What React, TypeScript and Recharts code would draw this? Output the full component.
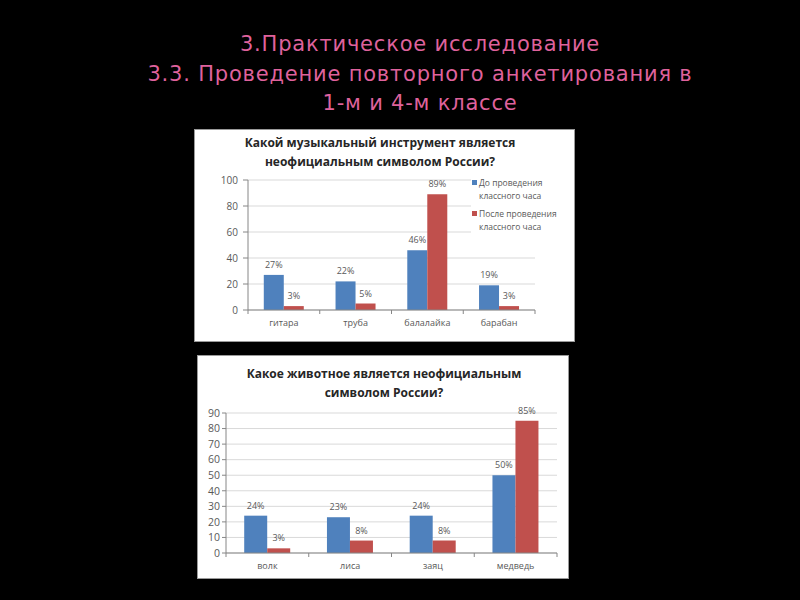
import { Bar, BarChart, CartesianGrid, LabelList, Legend, XAxis, YAxis } from "recharts";

const INSTRUMENTS = ["гитара", "труба", "балалайка", "барабан"];
const INSTR_BEFORE = [27, 22, 46, 19];
const INSTR_AFTER = [3, 5, 89, 3];
const INSTR_TICKS = [0, 20, 40, 60, 80, 100];

const ANIMALS = ["волк", "лиса", "заяц", "медведь"];
const ANIMAL_BEFORE = [24, 23, 24, 50];
const ANIMAL_AFTER = [3, 8, 8, 85];
const ANIMAL_TICKS = [0, 10, 20, 30, 40, 50, 60, 70, 80, 90];

const BEFORE_NAME = "До проведения\nклассного часа";
const AFTER_NAME = "После проведения\nклассного часа";

const BLUE = "#4f81bd";
const RED = "#c0504d";
const GREY_TEXT = "#595959";
const AXIS = "#868686";
const FONT = "'Open Sans', sans-serif";

const instrData = INSTRUMENTS.map((name, i) => ({
  name,
  before: INSTR_BEFORE[i],
  after: INSTR_AFTER[i],
}));

const animalData = ANIMALS.map((name, i) => ({
  name,
  before: ANIMAL_BEFORE[i],
  after: ANIMAL_AFTER[i],
}));

const pct = (v: any) => `${v}%`;

// подпись категории + засечки на границах категорий, как в Excel
function CategoryTick(props: any) {
  const { x, y, payload, index, visibleTicksCount } = props;
  const half = payload?.offset ?? 0;
  const axisY = y - 10;
  const last = index === (visibleTicksCount ?? 4) - 1;
  return (
    <g>
      <line x1={x - half} x2={x - half} y1={axisY} y2={axisY + 4} stroke={AXIS} />
      {last && <line x1={x + half} x2={x + half} y1={axisY} y2={axisY + 4} stroke={AXIS} />}
      <text x={x} y={y} dy="0.71em" textAnchor="middle" fontSize={9} fill={GREY_TEXT}>
        {payload.value}
      </text>
    </g>
  );
}

function LegendBox(props: any) {
  const items = props.payload || [];
  return (
    <div style={{ background: "#fff", padding: "0 0 4px 0", fontFamily: FONT }}>
      {items.map((it: any, i: number) => (
        <div key={i} style={{ position: "relative", paddingLeft: 8, marginBottom: i === 0 ? 5 : 0 }}>
          <span
            style={{
              position: "absolute",
              left: 1,
              top: 4,
              width: 5,
              height: 5,
              background: it.color,
            }}
          />
          <div
            style={{
              whiteSpace: "pre-line",
              fontSize: 8.5,
              lineHeight: "13px",
              color: GREY_TEXT,
            }}
          >
            {it.value}
          </div>
        </div>
      ))}
    </div>
  );
}

function ChartTitle({ lines, cx, top }: { lines: string[]; cx: number; top: number }) {
  return (
    <div
      style={{
        position: "absolute",
        left: cx - 200,
        top,
        width: 400,
        textAlign: "center",
        fontFamily: FONT,
        fontWeight: 700,
        fontSize: 12,
        lineHeight: "18.5px",
        color: "#262626",
      }}
    >
      {lines.map((l, i) => (
        <div key={i}>{l}</div>
      ))}
    </div>
  );
}

export default function App() {
  return (
    <div
      style={{
        position: "fixed",
        left: 0,
        top: 0,
        width: 800,
        height: 600,
        background: "#000",
        overflow: "hidden",
      }}
    >
      {/* Заголовок слайда */}
      <div
        style={{
          position: "absolute",
          left: 20,
          top: 30,
          width: 800,
          textAlign: "center",
          fontFamily: "'DejaVu Sans', sans-serif",
          fontSize: 21,
          letterSpacing: 0.8,
          lineHeight: "29.5px",
          color: "#df629c",
        }}
      >
        <div>3.Практическое исследование</div>
        <div>3.3. Проведение повторного анкетирования в</div>
        <div>1-м и 4-м классе</div>
      </div>

      {/* Диаграмма 1 */}
      <div
        style={{
          position: "absolute",
          left: 194,
          top: 129,
          width: 381,
          height: 213,
          background: "#fff",
          border: "1px solid #9a9a9a",
          boxSizing: "border-box",
        }}
      />
      <div style={{ position: "absolute", left: 194, top: 129 }}>
        <BarChart
          width={381}
          height={213}
          data={instrData}
          margin={{ top: 51, right: 40, bottom: 12, left: 24 }}
          barCategoryGap="22%"
          barGap={0}
          style={{ fontFamily: FONT }}
        >
          <CartesianGrid vertical={false} stroke="#d9d9d9" />
          <XAxis
            dataKey="name"
            height={20}
            tickLine={false}
            tickSize={4}
            tickMargin={6}
            stroke={AXIS}
            interval={0}
            tick={<CategoryTick />}
          />
          <YAxis
            width={30}
            domain={[0, 100]}
            ticks={INSTR_TICKS}
            tickSize={5}
            tickMargin={5}
            stroke={AXIS}
            tick={{ fontSize: 10, fill: GREY_TEXT }}
          />
          <Legend
            layout="vertical"
            align="center"
            verticalAlign="middle"
            content={<LegendBox />}
            wrapperStyle={{ left: 277, top: 47, width: 92 }}
          />
          <Bar dataKey="before" name={BEFORE_NAME} fill={BLUE} isAnimationActive={false}>
            <LabelList dataKey="before" position="top" offset={7} formatter={pct} style={{ fontSize: 9, fill: GREY_TEXT }} />
          </Bar>
          <Bar dataKey="after" name={AFTER_NAME} fill={RED} isAnimationActive={false}>
            <LabelList dataKey="after" position="top" offset={7} formatter={pct} style={{ fontSize: 9, fill: GREY_TEXT }} />
          </Bar>
        </BarChart>
      </div>
      <ChartTitle
        lines={["Какой музыкальный инструмент является", "неофициальным символом России?"]}
        cx={380}
        top={134}
      />

      {/* Диаграмма 2 */}
      <div
        style={{
          position: "absolute",
          left: 197,
          top: 355,
          width: 372,
          height: 224,
          background: "#fff",
          border: "1px solid #9a9a9a",
          boxSizing: "border-box",
        }}
      />
      <div style={{ position: "absolute", left: 197, top: 355 }}>
        <BarChart
          width={372}
          height={224}
          data={animalData}
          margin={{ top: 58, right: 12, bottom: 6, left: 7 }}
          barCategoryGap="22%"
          barGap={0}
          style={{ fontFamily: FONT }}
        >
          <CartesianGrid vertical={false} stroke="#d9d9d9" />
          <XAxis
            dataKey="name"
            height={20}
            tickLine={false}
            tickSize={4}
            tickMargin={6}
            stroke={AXIS}
            interval={0}
            tick={<CategoryTick />}
          />
          <YAxis
            width={22}
            domain={[0, 90]}
            ticks={ANIMAL_TICKS}
            interval={0}
            tickSize={4}
            tickMargin={2}
            stroke={AXIS}
            tick={{ fontSize: 10.5, fill: GREY_TEXT }}
          />
          <Bar dataKey="before" fill={BLUE} isAnimationActive={false}>
            <LabelList dataKey="before" position="top" offset={7} formatter={pct} style={{ fontSize: 9, fill: GREY_TEXT }} />
          </Bar>
          <Bar dataKey="after" fill={RED} isAnimationActive={false}>
            <LabelList dataKey="after" position="top" offset={7} formatter={pct} style={{ fontSize: 9, fill: GREY_TEXT }} />
          </Bar>
        </BarChart>
      </div>
      <ChartTitle
        lines={["Какое животное является неофициальным", "символом России?"]}
        cx={384}
        top={365}
      />
    </div>
  );
}
